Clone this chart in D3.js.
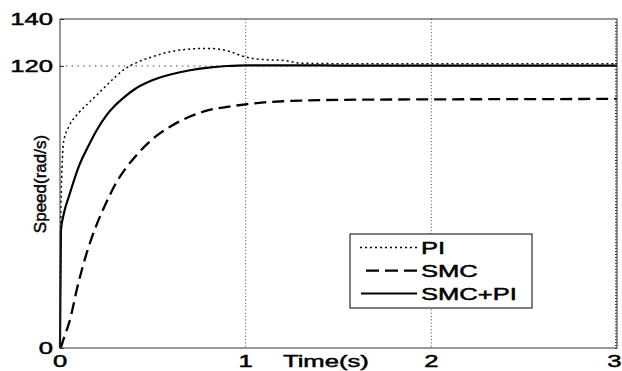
<!DOCTYPE html>
<html>
<head>
<meta charset="utf-8">
<script src="https://cdn.jsdelivr.net/npm/d3@7"></script>
<style>
  html, body { margin: 0; padding: 0; background: #fff; }
  svg { display: block; }
  text { font-family: "Liberation Sans", Arial, sans-serif; fill: #000; stroke: #000; stroke-width: 0.45px; }
</style>
</head>
<body>
<div id="chart"></div>
<script>
// time samples (s)
const time = [0, 0.005, 0.02, 0.05, 0.1, 0.15, 0.2, 0.25, 0.3, 0.35, 0.4, 0.5, 0.6, 0.7, 0.8, 0.9, 1.0, 1.1, 1.2, 1.3, 1.5, 2.0, 2.5, 3.0];

// speed (rad/s)
const piSpeed = [0, 60, 88, 94.5, 100, 104, 107.8, 111.7, 115.5, 118.8, 121, 124, 126.2, 127.2, 127.5, 126.5, 123.8, 122.7, 122.4, 121.2, 121, 121, 121, 121];
const smcSpeed = [0, 0.5, 4, 11, 28, 42, 53, 62, 70, 76, 81, 89, 94.5, 98.5, 101.2, 102.6, 103.7, 104.5, 105, 105.3, 105.6, 105.8, 105.9, 106];
const smcPiSpeed = [0, 50, 57, 65, 77, 85.5, 93, 99, 103.5, 107, 110, 114, 116.5, 118.2, 119.3, 120, 120.3, 120.3, 120.3, 120.3, 120.2, 120.2, 120.2, 120.2];

const xTicks = [0, 1, 2, 3];
const yTicks = [0, 120, 140];
const seriesNames = ['PI', 'SMC', 'SMC+PI'];

const W = 622, H = 371;
const STRETCH = 1.6; // text in the picture is wider than tall

const svg = d3.select('#chart').append('svg')
  .attr('width', W)
  .attr('height', H);

const x = d3.scaleLinear().domain([0, 3]).range([60, 617]);
const y = d3.scaleLinear().domain([0, 140]).range([348, 19]);

// grid (dotted)
const grid = svg.append('g');
grid.selectAll('.vg')
  .data(xTicks.filter(d => d > 0 && d < 3))
  .enter().append('line')
  .attr('x1', d => x(d)).attr('x2', d => x(d))
  .attr('y1', y(140)).attr('y2', y(0))
  .attr('stroke', '#444')
  .attr('stroke-width', 1)
  .attr('stroke-dasharray', '1,2.3');
grid.selectAll('.hg')
  .data(yTicks.filter(d => d > 0 && d < 140))
  .enter().append('line')
  .attr('x1', x(0)).attr('x2', x(3))
  .attr('y1', d => y(d)).attr('y2', d => y(d))
  .attr('stroke', '#444')
  .attr('stroke-width', 1)
  .attr('stroke-dasharray', '1.5,4.3');

// curves
const line = (vals) => d3.line()
  .x((d, i) => x(time[i]))
  .y(d => y(d))
  .curve(d3.curveMonotoneX)(vals);

svg.append('path')
  .attr('d', line(smcSpeed))
  .attr('fill', 'none')
  .attr('stroke', '#000')
  .attr('stroke-width', 2.3)
  .attr('stroke-dasharray', '12,6');

svg.append('path')
  .attr('d', line(piSpeed))
  .attr('fill', 'none')
  .attr('stroke', '#000')
  .attr('stroke-width', 1.5)
  .attr('stroke-dasharray', '2,3');

svg.append('path')
  .attr('d', line(smcPiSpeed))
  .attr('fill', 'none')
  .attr('stroke', '#000')
  .attr('stroke-width', 2.2);

// axes box
svg.append('rect')
  .attr('x', x(0)).attr('y', y(140))
  .attr('width', x(3) - x(0)).attr('height', y(0) - y(140))
  .attr('fill', 'none')
  .attr('stroke', '#333')
  .attr('stroke-width', 1);

// inward ticks
const yAxis = d3.axisRight(y).tickValues(yTicks).tickSize(4).tickFormat('');
svg.append('g').attr('transform', `translate(${x(0)},0)`).call(yAxis)
  .call(g => g.select('.domain').remove())
  .call(g => g.selectAll('line').attr('stroke', '#333'));

// dense minor ticks on the right edge
const rAxis = d3.axisLeft(y).tickValues(d3.range(0, 140, 1.25)).tickSize(2).tickFormat('');
svg.append('g').attr('transform', `translate(${x(3)},0)`).call(rAxis)
  .call(g => g.select('.domain').remove())
  .call(g => g.selectAll('line').attr('stroke', '#333'));

// stretched text helper
function label(px, py, str, anchor, size) {
  return svg.append('text')
    .attr('transform', `translate(${px},${py}) scale(${STRETCH},1)`)
    .attr('text-anchor', anchor)
    .attr('font-size', size || 16)
    .text(str);
}

yTicks.forEach(d => label(53, y(d) + 6, d, 'end'));
xTicks.forEach(d => d === 3
  ? label(621.5, 367, d, 'end')
  : label(x(d), 367, d, 'middle'));

label(283, 367, 'Time(s)', 'start');

svg.append('text')
  .attr('transform', `translate(46,184) rotate(-90)`)
  .attr('text-anchor', 'middle')
  .attr('font-size', 17)
  .text('Speed(rad/s)');

// legend
const legend = svg.append('g');
legend.append('rect')
  .attr('x', 350).attr('y', 234)
  .attr('width', 182).attr('height', 74)
  .attr('fill', '#fff')
  .attr('stroke', '#000')
  .attr('stroke-width', 1);

const legendStyles = [
  { w: 1.5, dash: '2,3', x1: 360 },
  { w: 2.3, dash: '13,6', x1: 366 },
  { w: 2.2, dash: null, x1: 361 }
];
const legendY = [247.5, 270.7, 293.5];

seriesNames.forEach((name, i) => {
  const s = legendStyles[i];
  legend.append('line')
    .attr('x1', s.x1).attr('x2', 417)
    .attr('y1', legendY[i]).attr('y2', legendY[i])
    .attr('stroke', '#000')
    .attr('stroke-width', s.w)
    .attr('stroke-dasharray', s.dash);
  label(421, legendY[i] + 6.5, name, 'start');
});
</script>
</body>
</html>
